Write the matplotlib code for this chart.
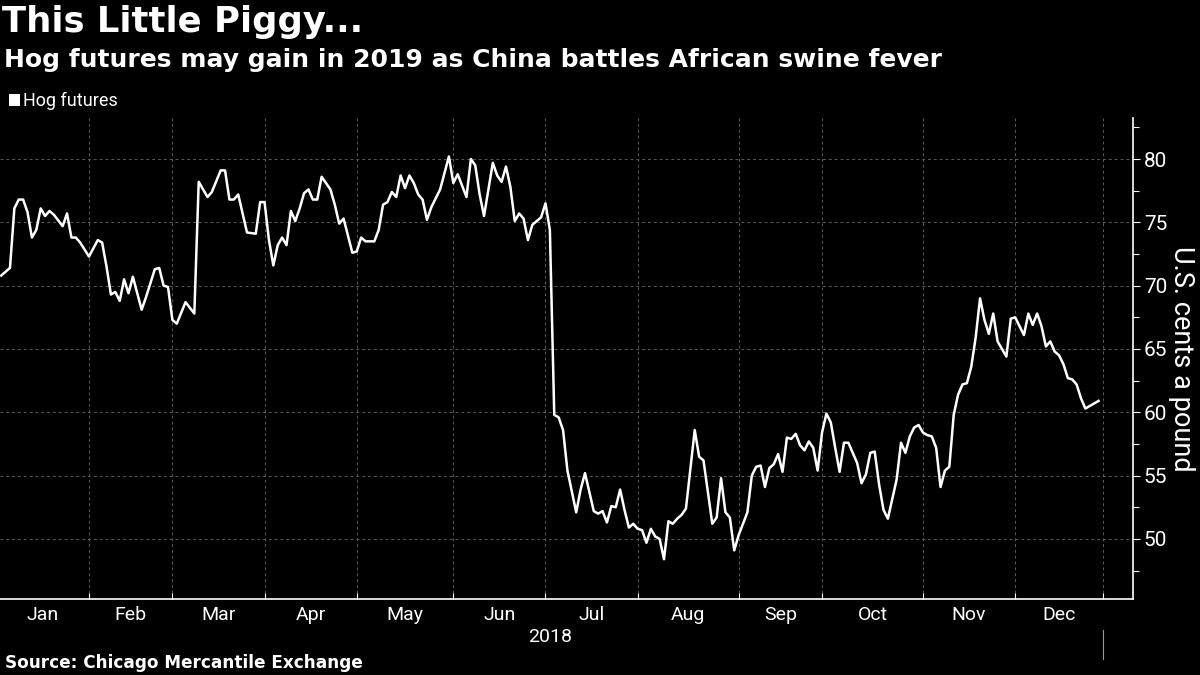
import matplotlib.pyplot as plt
import matplotlib.transforms as mtransforms
import numpy as np

TITLE = 'This Little Piggy...'
SUBTITLE = 'Hog futures may gain in 2019 as China battles African swine fever'
SERIES_NAME = 'Hog futures'
Y_LABEL = 'U.S. cents a pound'
SOURCE = 'Source: Chicago Mercantile Exchange'
YEAR = '2018'
MONTHS = ['Jan', 'Feb', 'Mar', 'Apr', 'May', 'Jun',
          'Jul', 'Aug', 'Sep', 'Oct', 'Nov', 'Dec']
Y_TICKS = [50, 55, 60, 65, 70, 75, 80]
# exchange holidays of 2018, the axis runs on trading sessions
HOLIDAYS = ['2018-01-15', '2018-02-19', '2018-03-30', '2018-05-28',
            '2018-07-04', '2018-09-03', '2018-11-22', '2018-12-25']

# trading session number in 2018 (Jan 2 = 0)
session = [
    1, 3, 4, 5, 6, 7, 8, 9, 10, 11, 12, 13, 15, 16, 17, 18, 19, 21,
    23, 24, 25, 26, 27, 28, 29, 30, 31, 33, 34, 36, 37, 38, 39, 40, 41,
    43, 45, 46, 48, 49, 51, 52, 53, 54, 55, 57, 59, 60, 61, 62, 63, 64,
    65, 66, 67, 68, 69, 70, 71, 72, 73, 74, 75, 76, 77, 78, 79, 81, 82,
    83, 84, 86, 87, 88, 89, 90, 91, 92, 93, 94, 95, 96, 97, 98, 99, 101,
    103, 104, 105, 106, 107, 108, 109, 110, 111, 113, 114, 115, 116, 117, 118, 119,
    120, 121, 122, 124, 125, 126, 127, 128, 129, 130, 132, 133, 134, 136, 137, 138,
    139, 140, 141, 142, 143, 144, 145, 146, 147, 148, 149, 150, 151, 152, 153, 154,
    155, 156, 157, 159, 160, 161, 163, 164, 165, 166, 167, 168, 169, 171, 172, 173,
    174, 175, 176, 177, 178, 179, 180, 181, 182, 183, 184, 185, 186, 187, 188, 189,
    190, 191, 192, 193, 194, 195, 196, 197, 198, 199, 200, 201, 202, 203, 205, 206,
    207, 208, 209, 210, 211, 212, 213, 214, 215, 216, 217, 218, 219, 220, 221, 222,
    223, 224, 225, 226, 227, 228, 230, 231, 232, 234, 235, 236, 237, 238, 239, 240,
    241, 242, 243, 244, 245, 246, 247, 248, 249, 250, 251,
]
price = [
    70.8, 71.4, 76.1, 76.8, 76.8, 75.8, 73.8, 74.4, 76.1, 75.5, 75.9, 75.6, 74.7, 75.7, 73.8, 73.8, 73.4, 72.3,
    73.6, 73.4, 71.5, 69.3, 69.5, 68.8, 70.5, 69.4, 70.7, 68.1, 69.1, 71.3, 71.4, 70.0, 69.9, 67.3, 67.0,
    68.7, 67.8, 78.2, 77.0, 77.4, 79.1, 79.1, 76.8, 76.8, 77.2, 74.2, 74.1, 76.6, 76.6, 73.6, 71.6, 73.2,
    73.8, 73.2, 75.9, 75.1, 76.1, 77.3, 77.6, 76.8, 76.8, 78.6, 78.1, 77.6, 76.4, 74.9, 75.3, 72.6, 72.7,
    73.8, 73.5, 73.5, 74.4, 76.4, 76.6, 77.4, 77.0, 78.7, 77.7, 78.7, 78.1, 77.2, 76.8, 75.2, 76.2, 77.6,
    80.2, 78.1, 78.8, 77.9, 77.0, 80.0, 79.5, 77.2, 75.5, 79.7, 78.7, 78.2, 79.4, 77.8, 75.1, 75.7,
    75.3, 73.6, 74.8, 75.4, 76.5, 74.4, 59.8, 59.6, 58.6, 55.4, 52.1, 53.9, 55.2, 52.2, 52.0, 52.2,
    51.3, 52.6, 52.5, 53.9, 52.3, 50.9, 51.2, 50.8, 50.7, 49.7, 50.8, 50.2, 50.0, 48.4, 51.4, 51.2,
    51.6, 51.9, 52.4, 58.6, 56.5, 56.2, 51.2, 51.7, 54.8, 52.1, 51.7, 49.1, 50.3, 52.1, 55.0, 55.7,
    55.8, 54.1, 55.6, 55.9, 56.7, 55.3, 58.0, 57.9, 58.3, 57.4, 57.0, 57.7, 57.2, 55.4, 58.4, 59.9,
    59.2, 57.2, 55.3, 57.6, 57.6, 56.8, 56.0, 54.4, 55.1, 56.8, 56.9, 54.3, 52.3, 51.6, 54.7, 57.6,
    56.8, 58.1, 58.8, 59.0, 58.4, 58.2, 58.1, 57.2, 54.1, 55.4, 55.7, 59.8, 61.4, 62.2, 62.3, 63.6,
    65.9, 69.0, 67.3, 66.2, 67.8, 65.6, 64.4, 67.4, 67.5, 66.1, 67.8, 66.9, 67.8, 66.8, 65.2, 65.6,
    64.8, 64.5, 63.8, 62.7, 62.6, 62.2, 61.1, 60.3, 60.5, 60.7, 60.9,
]

NARROW = ['Roboto', 'DejaVu Sans']
BOLD = ['DejaVu Sans']
GRID = '#5a5a5a'

plt.rcParams['font.family'] = NARROW

fig = plt.figure(figsize=(12, 6.75), dpi=100, facecolor='black')
ax = fig.add_axes([0.0, 0.1126, 0.944, 0.7126])
ax.set_facecolor('black')

ax.plot(session, price, color='white', lw=1.8, solid_joinstyle='round')

# month boundaries counted in trading sessions
month_starts = [f'2018-{m:02d}-01' for m in range(1, 13)] + ['2019-01-01']
bounds = np.busday_count('2018-01-02', month_starts, holidays=HOLIDAYS)
bounds[0] = 0
mids = (bounds[:-1] + bounds[1:]) / 2

ax.set_xlim(0.73, 258.8)
ax.set_ylim(45.26, 83.24)

ax.set_xticks(bounds[1:])
ax.set_xticklabels([])
ax.set_xticks(mids, minor=True)
ax.set_xticklabels(MONTHS, minor=True)
ax.tick_params(axis='x', which='major', direction='in', length=4, color='white', width=0.8)
ax.tick_params(axis='x', which='minor', length=0, pad=5, labelsize=14, labelcolor='white')

ax.yaxis.tick_right()
ax.set_yticks(Y_TICKS)
ax.set_yticks(np.arange(47.5, 83, 5), minor=True)
ax.tick_params(axis='y', which='both', direction='out', length=5, color='white', width=0.8,
               labelsize=15, labelcolor='white', pad=3)
ax.tick_params(axis='y', which='minor', length=4)

ax.grid(True, which='major', color=GRID, linestyle=(0, (3, 3)), linewidth=0.7)

for side in ['left', 'top']:
    ax.spines[side].set_visible(False)
for side in ['right', 'bottom']:
    ax.spines[side].set_color('white')
    ax.spines[side].set_linewidth(1.2)

ax.yaxis.set_label_position('right')
ax.set_ylabel(Y_LABEL, rotation=270, color='white', fontsize=19.5, labelpad=20)

# year label and year separator below the axis
trans = mtransforms.blended_transform_factory(ax.transData, ax.transAxes)
ax.text((bounds[0] + bounds[-1]) / 2, -0.08, YEAR, transform=trans, ha='center', va='center',
        color='white', fontsize=14)
ax.plot([bounds[-1], bounds[-1]], [-0.065, -0.125], transform=trans, color='#999999',
        lw=0.8, clip_on=False)

fig.text(0.002, 0.968, TITLE, color='white', fontsize=25.5, fontweight='bold', family=BOLD,
         va='center', ha='left')
fig.text(0.003, 0.911, SUBTITLE, color='white', fontsize=18, fontweight='bold', family=BOLD,
         va='center', ha='left')

fig.patches.append(plt.Rectangle((0.0075, 0.843), 0.0095, 0.0175, transform=fig.transFigure,
                                 facecolor='white', edgecolor='none'))
fig.text(0.0195, 0.851, SERIES_NAME, color='white', fontsize=13, va='center', ha='left')

fig.text(0.004, 0.018, SOURCE, color='white', fontsize=12.2, fontweight='bold', family=BOLD,
         va='center', ha='left')

fig.savefig('out.png', dpi=100, facecolor='black')
